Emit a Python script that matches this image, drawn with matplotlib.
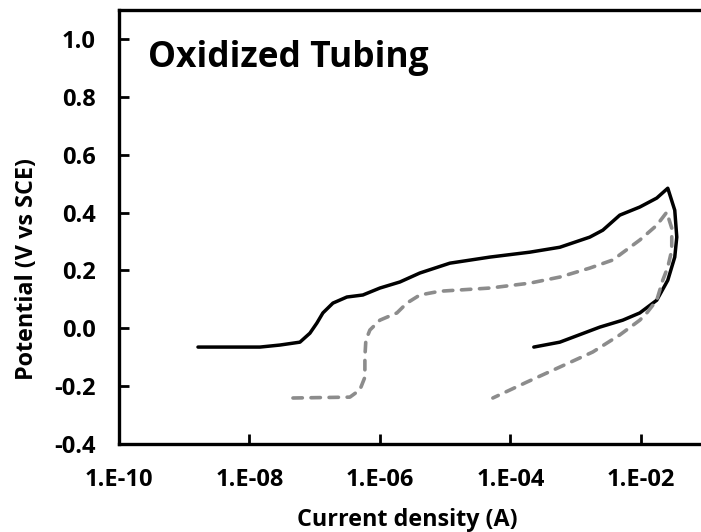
import numpy as np
import matplotlib
matplotlib.use("Agg")
import matplotlib.pyplot as plt

# Solid black curve (log10 current, potential)
black_logi = [-8.789, -8.299, -7.839, -7.533, -7.226, -7.073, -6.966, -6.874, -6.720, -6.506,
              -6.261, -6.000, -5.693, -5.387, -4.927, -4.314, -3.701, -3.241, -2.782, -2.582,
              -2.322, -2.015, -1.755, -1.586, -1.479, -1.448, -1.479, -1.586, -1.755, -2.015,
              -2.276, -2.628, -3.241, -3.640]
black_pot = [-0.065, -0.065, -0.065, -0.058, -0.048, -0.017, 0.018, 0.053, 0.087, 0.108,
             0.115, 0.139, 0.160, 0.191, 0.225, 0.246, 0.263, 0.280, 0.315, 0.339,
             0.391, 0.419, 0.450, 0.484, 0.408, 0.315, 0.246, 0.166, 0.097, 0.053,
             0.028, 0.004, -0.048, -0.065]

# Dashed gray curve
gray_logi = [-7.333, -6.460, -6.307, -6.230, -6.230, -6.215, -6.153, -6.000, -5.739, -5.586,
             -5.387, -5.080, -4.314, -3.701, -3.241, -2.782, -2.429, -2.015, -1.755, -1.602,
             -1.525, -1.525, -1.586, -1.663, -1.755, -1.908, -2.015, -2.322, -2.736, -3.241,
             -3.747, -4.268]
gray_pot = [-0.241, -0.238, -0.213, -0.169, -0.099, -0.041, -0.006, 0.028, 0.053, 0.087,
            0.115, 0.128, 0.139, 0.156, 0.177, 0.208, 0.236, 0.305, 0.356, 0.401,
            0.346, 0.270, 0.211, 0.166, 0.097, 0.053, 0.028, -0.023, -0.082, -0.134,
            -0.186, -0.241]

xticks = [1e-10, 1e-8, 1e-6, 1e-4, 1e-2]
xtick_labels = ["1.E-10", "1.E-08", "1.E-06", "1.E-04", "1.E-02"]
yticks = [-0.4, -0.2, 0.0, 0.2, 0.4, 0.6, 0.8, 1.0]
ytick_labels = ["-0.4", "-0.2", "0.0", "0.2", "0.4", "0.6", "0.8", "1.0"]

plt.rcParams['font.family'] = ['Open Sans', 'DejaVu Sans']

fig = plt.figure(figsize=(7.01, 5.32), dpi=100)
ax = fig.add_axes([119 / 701, 88 / 532, 587 / 701, 434 / 532])

ax.plot(10 ** np.array(black_logi), black_pot, color="black", lw=2.5,
        solid_capstyle="round", solid_joinstyle="round")
ax.plot(10 ** np.array(gray_logi), gray_pot, color="#8c8c8c", lw=2.6,
        dashes=(2.6, 2.4), dash_capstyle="round", dash_joinstyle="round")

ax.set_xscale("log")
ax.set_xlim(1e-10, 1e-1)
ax.set_ylim(-0.4, 1.1)
ax.set_xticks(xticks)
ax.set_xticklabels(xtick_labels)
ax.minorticks_off()
ax.set_yticks(yticks)
ax.set_yticklabels(ytick_labels)
ax.tick_params(direction="in", length=7, width=2, labelsize=17)
ax.tick_params(axis="x", pad=17)
ax.tick_params(axis="y", pad=17)
for lbl in ax.get_xticklabels() + ax.get_yticklabels():
    lbl.set_fontweight("bold")
for s in ax.spines.values():
    s.set_linewidth(2.4)
ax.spines["right"].set_visible(False)

ax.set_xlabel("Current density (A)", fontsize=16.8, fontweight="bold")
ax.xaxis.set_label_coords(0.4906, -0.148)
ax.set_ylabel("Potential (V vs SCE)", fontsize=16.8, fontweight="bold")
ax.yaxis.set_label_coords(-0.136, 0.403)
ax.text(0.05, 0.889, "Oxidized Tubing", transform=ax.transAxes, fontsize=25.5,
        fontweight="bold", va="center", ha="left")

fig.savefig("out.png", dpi=100)
